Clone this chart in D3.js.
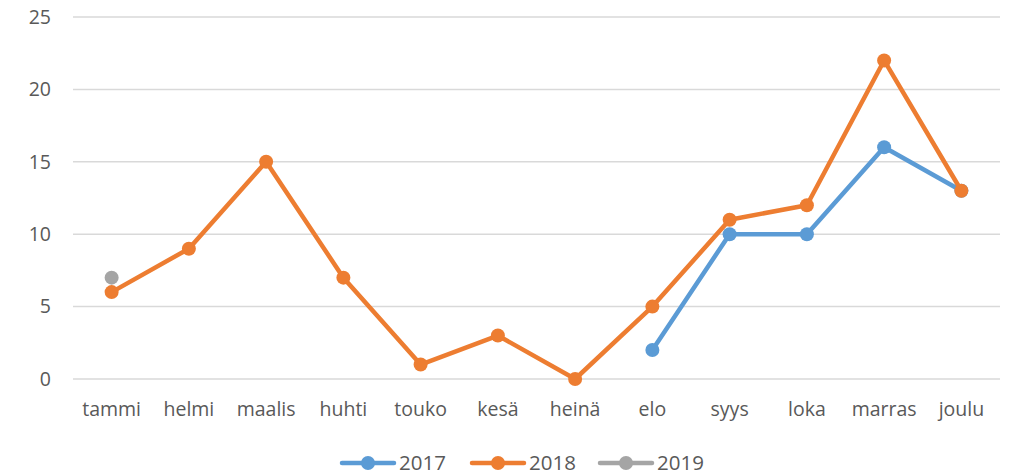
<!DOCTYPE html>
<html lang="fi">
<head>
<meta charset="UTF-8">
<title>Kuukausittain</title>
<script src="https://d3js.org/d3.v7.min.js"></script>
<style>
    body { margin: 0; background: #fff; }
    svg text { font-family: "Open Sans", sans-serif; }
    .grid line { stroke: #d9d9d9; stroke-width: 1.5; }
    .tick text { fill: #595959; font-size: 19.5px; }
</style>
</head>
<body>
<div id="chart"></div>
<script>
    // data
    var months = ["tammi", "helmi", "maalis", "huhti", "touko", "kesä", "heinä", "elo", "syys", "loka", "marras", "joulu"];
    var yTicks = [0, 5, 10, 15, 20, 25];
    var seriesNames = ["2017", "2018", "2019"];
    var seriesColors = ["#5b9bd5", "#ed7d31", "#a5a5a5"];
    var values2017 = [null, null, null, null, null, null, null, 2, 10, 10, 16, 13];
    var values2018 = [6, 9, 15, 7, 1, 3, 0, 5, 11, 12, 22, 13];
    var values2019 = [7, null, null, null, null, null, null, null, null, null, null, null];

    var width = 1010, height = 476;
    var margin = {top: 17, right: 10, bottom: 97, left: 73};

    var svg = d3.select("#chart").append("svg")
        .attr("width", width)
        .attr("height", height);

    var x = d3.scaleBand()
        .domain(months)
        .range([margin.left, width - margin.right]);

    var y = d3.scaleLinear()
        .domain([0, 25])
        .range([height - margin.bottom, margin.top]);

    // gridlines
    var grid = svg.append("g").attr("class", "grid");
    grid.selectAll("line")
        .data(yTicks)
        .enter().append("line")
        .attr("x1", margin.left)
        .attr("x2", width - margin.right)
        .attr("y1", function(d) { return y(d); })
        .attr("y2", function(d) { return y(d); });

    // y axis labels
    var yAxis = svg.append("g")
        .attr("transform", "translate(" + (margin.left - 22) + ",0)")
        .call(d3.axisLeft(y).tickValues(yTicks).tickSize(0).tickPadding(0));
    yAxis.select(".domain").remove();
    yAxis.selectAll("text").attr("text-anchor", "end");

    // x axis labels
    var xAxis = svg.append("g")
        .attr("transform", "translate(0," + (height - margin.bottom) + ")")
        .call(d3.axisBottom(x).tickSize(0).tickPadding(23));
    xAxis.select(".domain").remove();

    var allSeries = [values2017, values2018, values2019];

    var line = d3.line()
        .defined(function(d) { return d != null; })
        .x(function(d, i) { return x(months[i]) + x.bandwidth() / 2; })
        .y(function(d) { return y(d); });

    allSeries.forEach(function(vals, k) {
        var g = svg.append("g");
        g.append("path")
            .datum(vals)
            .attr("fill", "none")
            .attr("stroke", seriesColors[k])
            .attr("stroke-width", 4.5)
            .attr("stroke-linejoin", "round")
            .attr("stroke-linecap", "round")
            .attr("d", line);
        g.selectAll("circle")
            .data(vals.map(function(v, i) { return {v: v, i: i}; }).filter(function(d) { return d.v != null; }))
            .enter().append("circle")
            .attr("cx", function(d) { return x(months[d.i]) + x.bandwidth() / 2; })
            .attr("cy", function(d) { return y(d.v); })
            .attr("r", 7)
            .attr("fill", seriesColors[k]);
    });

    // legend
    var legendX = [340, 470, 598];
    var legend = svg.append("g").attr("transform", "translate(0,463)");
    seriesNames.forEach(function(name, k) {
        var lg = legend.append("g").attr("transform", "translate(" + legendX[k] + ",0)");
        lg.append("line")
            .attr("x1", 2).attr("x2", 54)
            .attr("stroke", seriesColors[k])
            .attr("stroke-width", 4.5)
            .attr("stroke-linecap", "round");
        lg.append("circle")
            .attr("cx", 28).attr("r", 7)
            .attr("fill", seriesColors[k]);
        lg.append("text")
            .attr("x", 59)
            .attr("dy", "0.35em")
            .attr("fill", "#595959")
            .style("font-size", "20.5px")
            .text(name);
    });
</script>
</body>
</html>
